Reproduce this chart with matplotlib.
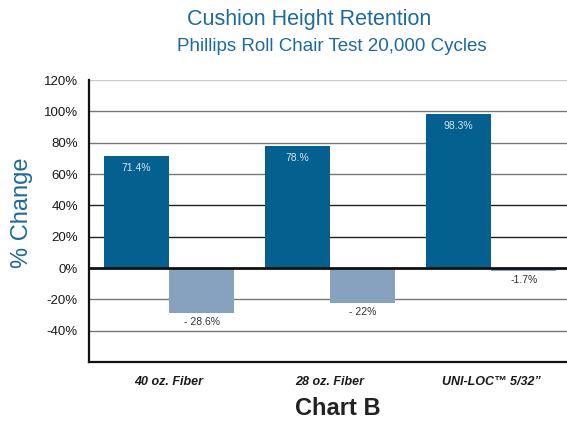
import matplotlib
matplotlib.use("Agg")
import matplotlib.pyplot as plt
import numpy as np

plt.rcParams['font.family'] = ['Liberation Sans', 'DejaVu Sans']

# data
categories = ["40 oz. Fiber", "28 oz. Fiber", "UNI-LOC\u2122 5/32\u201d"]
retention = [71.4, 78.0, 98.3]
retention_labels = ["71.4%", "78.%", "98.3%"]
change = [-28.6, -22.0, -1.7]
change_labels = ["- 28.6%", "- 22%", "-1.7%"]
yticks = [-40, -20, 0, 20, 40, 60, 80, 100, 120]

dark_blue = "#03608f"
light_blue = "#86a2bf"
title_blue = "#1c6a9e"

fig = plt.figure(figsize=(5.67, 4.26), dpi=100)
ax = fig.add_axes([0.157, 0.150, 0.843, 0.662])

x = np.arange(len(categories))
w = 0.404
ax.bar(x - w / 2, retention, width=w, color=dark_blue, zorder=3)
ax.bar(x + w / 2, change, width=w, color=light_blue, zorder=3)

# value labels
for xi, v, lab in zip(x, retention, retention_labels):
    ax.text(xi - w / 2, v - 7.5, lab, ha='center', va='center',
            color='#d8e4ef', fontsize=7.5, zorder=4)
for xi, v, lab in zip(x, change, change_labels):
    ax.text(xi + w / 2, v - 6, lab, ha='center', va='center',
            color='#333333', fontsize=7.5, zorder=4)

# grid lines
for t in yticks:
    if t == 0:
        ax.axhline(t, color='#111111', lw=2.0, zorder=4)
    elif t in (20, 40):
        ax.axhline(t, color='#222222', lw=1.0, zorder=1)
    elif t == 120:
        ax.axhline(t, color='#cccccc', lw=1.0, zorder=1)
    else:
        ax.axhline(t, color='#777777', lw=1.0, zorder=1)

ax.set_ylim(-60, 120)
ax.set_xlim(-0.497, 2.47)
ax.set_yticks(yticks)
ax.set_yticklabels([f"{t}%" for t in yticks], fontsize=9.5, color='#1a1a1a')
ax.tick_params(axis='y', length=0, pad=8)
ax.set_xticks([])

for s in ['top', 'right']:
    ax.spines[s].set_visible(False)
ax.spines['left'].set_linewidth(1.6)
ax.spines['bottom'].set_linewidth(1.6)
ax.spines['left'].set_color('#111111')
ax.spines['bottom'].set_color('#111111')

# category labels below axis
for xi, c in zip(x, categories):
    ax.text(xi, -72.5, c, ha='center', va='center', fontsize=9,
            fontstyle='italic', fontweight='bold', color='#1a1a1a',
            clip_on=False)

ax.set_ylabel("% Change", fontsize=17, color=title_blue)
ax.yaxis.set_label_coords(-0.118, 0.53)

fig.text(0.545, 0.955, "Cushion Height Retention", ha='center', va='center',
         fontsize=15.5, color=title_blue)
fig.text(0.585, 0.892, "Phillips Roll Chair Test 20,000 Cycles", ha='center',
         va='center', fontsize=13.5, color=title_blue)
fig.text(0.595, 0.040, "Chart B", ha='center', va='center', fontsize=17,
         fontweight='bold', color='#222222')

fig.savefig("out.png", dpi=100)
